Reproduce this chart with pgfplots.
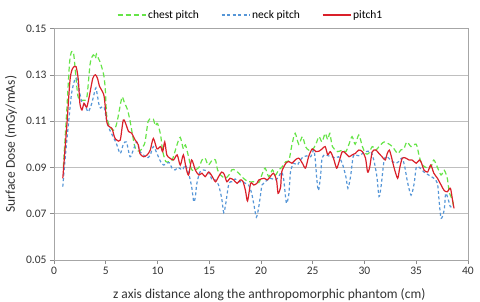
\documentclass[border=0pt]{standalone}
\usepackage{fontspec}
\setmainfont{Carlito}
\usepackage{pgfplots}
\pgfplotsset{compat=1.18}
\definecolor{chestc}{RGB}{102,228,72}
\definecolor{neckc}{RGB}{86,150,215}
\definecolor{pitchc}{RGB}{218,32,42}
\begin{document}
\begin{tikzpicture}
\useasboundingbox (0,0) rectangle (480pt,301pt);
\begin{axis}[
  at={(54pt,41pt)}, anchor=south west,
  scale only axis, width=414pt, height=231.5pt,
  xmin=0, xmax=40, ymin=0.05, ymax=0.15,
  xtick={0,5,10,15,20,25,30,35,40},
  ytick={0.05,0.07,0.09,0.11,0.13,0.15},
  ymajorgrids, grid style={draw=black!25, line width=0.6pt},
  axis line style={draw=black!35, line width=0.6pt},
  tick style={draw=black!45, line width=0.6pt},
  tick align=outside, tick pos=left, major tick length=4pt,
  ticklabel style={font=\fontsize{11.5}{13}\selectfont, text=black!80},
  yticklabel style={/pgf/number format/.cd, fixed, fixed zerofill, precision=2, assume math mode=true},
  xticklabel style={/pgf/number format/assume math mode=true},
  scaled y ticks=false,
  xlabel={z axis distance along the anthropomorphic phantom (cm)},
  ylabel={Surface Dose (mGy/mAs)},
  label style={font=\fontsize{13.5}{15}\selectfont, text=black!80},
  xlabel style={at={(axis description cs:0.52,-0.148)}, anchor=center},
  ylabel style={at={(axis description cs:-0.104,0.5)}, anchor=center, rotate=0},
  legend columns=3,
  legend style={draw=none, fill=none, at={(axis description cs:0.475,1.058)}, anchor=center,
    font=\fontsize{11.5}{13}\selectfont,
    /tikz/every even column/.append style={column sep=20pt}},
  legend image code/.code={\draw[#1, sharp plot] (0pt,0pt) -- (28pt,0pt);},
  every axis plot/.append style={smooth, tension=0.45},
]
\addplot[chestc, line width=1.2pt, dash pattern=on 5pt off 3pt] coordinates {
(0.9,0.090)(1.2,0.112)(1.5,0.135)(1.7,0.140)(1.9,0.139)(2.1,0.130)(2.3,0.121)(2.5,0.119)(2.8,0.119)(3.0,0.119)
(3.2,0.121)(3.5,0.135)(3.8,0.1386)(4.0,0.137)(4.1,0.139)(4.3,0.137)(4.5,0.135)(4.8,0.130)(4.95,0.124)(5.1,0.112)
(5.4,0.1076)(5.75,0.106)(6.0,0.108)(6.2,0.112)(6.45,0.118)(6.6,0.1205)(6.8,0.118)(7.1,0.115)(7.35,0.110)(7.55,0.105)
(7.8,0.099)(8.0,0.0975)(8.3,0.097)(8.6,0.099)(8.8,0.101)(9.1,0.110)(9.4,0.111)(9.6,0.1108)(9.8,0.108)(10.0,0.109)
(10.3,0.104)(10.5,0.097)(10.8,0.0925)(11.1,0.0925)(11.4,0.093)(11.7,0.097)(11.9,0.100)(12.2,0.103)(12.5,0.098)(12.7,0.0997)
(13.0,0.0946)(13.3,0.089)(13.6,0.0888)(14.0,0.090)(14.3,0.0932)(14.6,0.094)(14.9,0.091)(15.3,0.0932)(15.6,0.0932)(15.8,0.089)
(16.1,0.0867)(16.55,0.0853)(16.9,0.0867)(17.2,0.089)(17.5,0.0888)(17.85,0.0875)(18.3,0.0853)(18.8,0.0838)(19.3,0.0838)(19.8,0.0835)
(20.1,0.087)(20.4,0.0897)(20.75,0.086)(21.1,0.0889)(21.4,0.0867)(21.7,0.0889)(22.0,0.090)(22.4,0.0925)(22.7,0.093)(23.0,0.100)
(23.3,0.1047)(23.65,0.100)(24.0,0.1033)(24.3,0.099)(24.6,0.0975)(24.95,0.0975)(25.3,0.100)(25.6,0.1033)(25.9,0.101)(26.2,0.1047)
(26.45,0.102)(26.65,0.1047)(26.9,0.099)(27.4,0.0968)(27.85,0.0975)(28.2,0.0968)(28.5,0.100)(28.8,0.1033)(29.1,0.100)(29.45,0.104)
(29.8,0.099)(30.1,0.096)(30.4,0.096)(30.75,0.099)(31.1,0.0975)(31.4,0.099)(31.9,0.101)(32.4,0.100)(32.7,0.099)(33.2,0.096)
(33.5,0.0975)(33.8,0.098)(34.1,0.101)(34.5,0.099)(35.0,0.100)(35.3,0.0946)(35.6,0.091)(36.1,0.0897)(36.4,0.090)(36.7,0.0932)
(37.05,0.090)(37.4,0.0867)(37.7,0.0888)(38.0,0.0853)(38.2,0.079)(38.5,0.076)(38.6,0.0725)
};
\addlegendentry{chest pitch}
\addplot[neckc, line width=1.2pt, dash pattern=on 3pt off 2.5pt] coordinates {
(0.85,0.0817)(1.1,0.095)(1.4,0.109)(1.7,0.122)(2.0,0.1278)(2.2,0.1285)(2.45,0.123)(2.7,0.118)(3.0,0.117)(3.3,0.114)
(3.65,0.1177)(4.0,0.124)(4.1,0.1234)(4.4,0.116)(4.6,0.116)(4.85,0.116)(5.1,0.110)(5.4,0.106)(5.75,0.103)(6.05,0.100)
(6.4,0.096)(6.7,0.100)(7.0,0.101)(7.35,0.0946)(7.7,0.098)(8.0,0.101)(8.3,0.0968)(8.65,0.0954)(9.0,0.094)(9.3,0.0954)
(9.6,0.099)(9.95,0.096)(10.3,0.0925)(10.6,0.091)(10.9,0.0918)(11.15,0.092)(11.4,0.0897)(11.7,0.0889)(12.0,0.090)(12.4,0.0889)
(12.7,0.091)(13.0,0.0875)(13.3,0.0817)(13.5,0.0752)(13.65,0.077)(13.8,0.083)(14.1,0.088)(14.45,0.0889)(14.9,0.088)(15.3,0.0846)
(15.6,0.0846)(15.9,0.0824)(16.2,0.0767)(16.4,0.0705)(16.6,0.0745)(16.9,0.0831)(17.2,0.0838)(17.5,0.085)(17.85,0.0838)(18.2,0.0838)
(18.5,0.0831)(18.8,0.0824)(19.1,0.0788)(19.35,0.073)(19.55,0.0685)(19.75,0.072)(19.95,0.078)(20.1,0.0824)(20.4,0.0838)(20.9,0.0853)
(21.4,0.0846)(21.7,0.086)(22.0,0.088)(22.2,0.0846)(22.4,0.076)(22.5,0.0745)(22.7,0.0788)(22.85,0.088)(23.15,0.0918)(23.5,0.091)
(23.8,0.0932)(24.1,0.0946)(24.4,0.095)(24.8,0.0946)(25.1,0.0975)(25.25,0.093)(25.4,0.0846)(25.55,0.080)(25.75,0.086)(25.9,0.094)
(26.2,0.0955)(26.5,0.095)(26.9,0.0946)(27.2,0.094)(27.5,0.0946)(27.85,0.0918)(28.2,0.086)(28.4,0.081)(28.65,0.086)(28.9,0.0946)
(29.1,0.0954)(29.5,0.095)(29.8,0.096)(30.1,0.0968)(30.6,0.0968)(30.9,0.0932)(31.2,0.086)(31.4,0.0774)(31.6,0.0817)(31.9,0.0932)
(32.2,0.0946)(32.5,0.0932)(33.0,0.0918)(33.3,0.0925)(33.65,0.094)(33.9,0.090)(34.15,0.0838)(34.5,0.078)(34.8,0.0831)(35.0,0.090)
(35.3,0.090)(35.75,0.088)(36.2,0.0867)(36.7,0.0853)(37.05,0.0831)(37.2,0.076)(37.4,0.068)(37.7,0.0716)(37.85,0.0788)(38.1,0.076)
(38.3,0.073)(38.5,0.073)
};
\addlegendentry{neck pitch}
\addplot[pitchc, line width=1.2pt] coordinates {
(0.85,0.0853)(1.23,0.1076)(1.55,0.1278)(1.8,0.1328)(2.13,0.1335)(2.35,0.1278)(2.5,0.1177)(2.7,0.1148)(2.9,0.1177)(3.16,0.116)
(3.4,0.1205)(3.75,0.1285)(4.0,0.130)(4.2,0.1285)(4.4,0.125)(4.6,0.1234)(4.85,0.1205)(5.1,0.1097)(5.35,0.1076)(5.6,0.1069)
(5.85,0.103)(6.07,0.1018)(6.4,0.1018)(6.7,0.1105)(7.0,0.108)(7.2,0.1055)(7.5,0.1048)(7.85,0.1018)(8.15,0.0997)(8.3,0.096)
(8.65,0.0946)(9.0,0.0954)(9.3,0.0975)(9.6,0.1025)(9.95,0.098)(10.3,0.099)(10.5,0.0968)(10.7,0.101)(10.9,0.0954)(11.2,0.094)
(11.55,0.0932)(11.9,0.0954)(12.2,0.091)(12.5,0.0954)(12.75,0.090)(13.0,0.0867)(13.3,0.0932)(13.65,0.0889)(14.0,0.0867)(14.3,0.0875)
(14.6,0.086)(14.95,0.088)(15.3,0.086)(15.6,0.0838)(15.9,0.086)(16.2,0.088)(16.45,0.087)(16.7,0.0838)(17.0,0.0853)(17.35,0.0846)
(17.7,0.0831)(18.0,0.0846)(18.25,0.084)(18.5,0.080)(18.7,0.0755)(19.0,0.0831)(19.3,0.0824)(19.6,0.0831)(19.8,0.0846)(20.3,0.0853)
(20.6,0.0846)(20.9,0.086)(21.2,0.0875)(21.5,0.0846)(21.65,0.0788)(21.9,0.0817)(22.0,0.088)(22.4,0.0918)(22.7,0.0925)(23.0,0.0918)
(23.3,0.0932)(23.65,0.094)(24.0,0.0918)(24.3,0.0897)(24.6,0.0946)(24.95,0.098)(25.3,0.0968)(25.6,0.097)(25.9,0.098)(26.2,0.099)
(26.45,0.0955)(26.7,0.0968)(27.0,0.094)(27.3,0.0897)(27.5,0.0918)(27.85,0.0968)(28.2,0.096)(28.5,0.0946)(28.8,0.0954)(29.1,0.096)
(29.45,0.0975)(29.8,0.0968)(30.1,0.094)(30.3,0.088)(30.5,0.090)(30.75,0.0968)(31.1,0.0975)(31.4,0.096)(31.7,0.0946)(32.0,0.0932)
(32.2,0.096)(32.4,0.0975)(32.6,0.0946)(32.85,0.090)(33.2,0.0853)(33.4,0.0897)(33.65,0.094)(34.0,0.094)(34.3,0.0932)(34.6,0.0932)
(35.0,0.0918)(35.3,0.0932)(35.5,0.092)(35.75,0.0889)(36.1,0.088)(36.4,0.091)(36.7,0.0875)(37.05,0.0853)(37.4,0.0824)(37.7,0.080)
(38.0,0.0795)(38.3,0.081)(38.5,0.076)(38.65,0.0723)
};
\addlegendentry{pitch1}
\end{axis}
\end{tikzpicture}
\end{document}
